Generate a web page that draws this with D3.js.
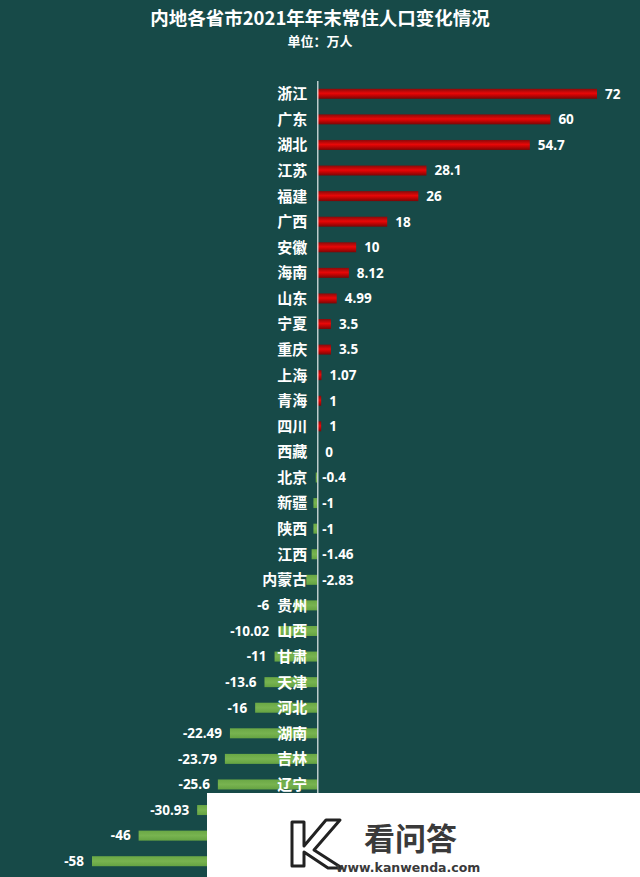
<!DOCTYPE html>
<html><head><meta charset="utf-8">
<script src="https://cdn.jsdelivr.net/npm/d3@7/dist/d3.min.js"></script>
<style>html,body{margin:0;padding:0;background:#fff;}svg{display:block;}</style>
</head><body>
<script>
const provinces = ["浙江","广东","湖北","江苏","福建","广西","安徽","海南","山东","宁夏","重庆","上海","青海","四川","西藏","北京","新疆","陕西","江西","内蒙古","贵州","山西","甘肃","天津","河北","湖南","吉林","辽宁","云南","黑龙江","河南"];
const changes = [72,60,54.7,28.1,26,18,10,8.12,4.99,3.5,3.5,1.07,1,1,0,-0.4,-1,-1,-1.46,-2.83,-6,-10.02,-11,-13.6,-16,-22.49,-23.79,-25.6,-30.93,-46,-58];
const valueLabels = ["72","60","54.7","28.1","26","18","10","8.12","4.99","3.5","3.5","1.07","1","1","0","-0.4","-1","-1","-1.46","-2.83","-6","-10.02","-11","-13.6","-16","-22.49","-23.79","-25.6","-30.93","-46","-58"];
const titleText = "内地各省市2021年年末常住人口变化情况";
const subtitleText = "单位：万人";

const W = 640, H = 877;
const svg = d3.select("body").append("svg").attr("width", W).attr("height", H);
const defs = svg.append("defs");
const gr = defs.append("linearGradient").attr("id","redg").attr("x1",0).attr("y1",0).attr("x2",0).attr("y2",1);
gr.append("stop").attr("offset","0%").attr("stop-color","#8a0a0a");
gr.append("stop").attr("offset","45%").attr("stop-color","#e80808");
gr.append("stop").attr("offset","60%").attr("stop-color","#d00404");
gr.append("stop").attr("offset","100%").attr("stop-color","#7a0606");
const gg = defs.append("linearGradient").attr("id","greeng").attr("x1",0).attr("y1",0).attr("x2",0).attr("y2",1);
gg.append("stop").attr("offset","0%").attr("stop-color","#6aa845");
gg.append("stop").attr("offset","50%").attr("stop-color","#78b350");
gg.append("stop").attr("offset","100%").attr("stop-color","#65a342");

svg.append("rect").attr("width",W).attr("height",H).attr("fill","#174a48");

const cjk = "'Noto Sans CJK SC','Noto Sans',sans-serif";
const num = "'Noto Sans','Open Sans',sans-serif";

svg.append("text").attr("x",320).attr("y",25).attr("text-anchor","middle")
  .attr("fill","#fff").attr("font-family",cjk).attr("font-weight","bold").attr("font-size",18.5).text(titleText);
svg.append("text").attr("x",320).attr("y",46).attr("text-anchor","middle")
  .attr("fill","#fff").attr("font-family",cjk).attr("font-weight","bold").attr("font-size",13).text(subtitleText);

const data = provinces.map((p,i)=>({p, v:changes[i], lab:valueLabels[i]}));
const x = d3.scaleLinear().domain([-58,72]).range([92,597]);
const y = d3.scaleBand().domain(provinces).range([81,874]).paddingInner(0.6).paddingOuter(0.3);
const x0 = x(0);
const bh = 10;

const g = svg.append("g");
g.selectAll("rect.bar").data(data).join("rect").attr("class","bar")
  .attr("x", d=>Math.min(x(d.v),x0)).attr("width", d=>Math.abs(x(d.v)-x0))
  .attr("y", d=>y(d.p)+y.bandwidth()/2-bh/2).attr("height", bh)
  .attr("fill", d=>d.v>=0?"url(#redg)":"url(#greeng)");

g.append("line").attr("x1",x0+0.5).attr("x2",x0+0.5).attr("y1",81).attr("y2",874)
  .attr("stroke","#e8eeee").attr("stroke-width",1.2);

const cats = g.selectAll("text.cat").data(data).join("text").attr("class","cat")
  .attr("x", x0-10).attr("y", d=>y(d.p)+y.bandwidth()/2).attr("dy","0.36em")
  .attr("text-anchor","end").attr("fill","#fff").attr("font-family",cjk).attr("font-weight","bold").attr("font-size",15)
  .text(d=>d.p);
const catLeft = {};
cats.each(function(d){ catLeft[d.p] = x0-10-this.getComputedTextLength(); });

g.selectAll("text.val").data(data).join("text").attr("class","val")
  .attr("y", d=>y(d.p)+y.bandwidth()/2).attr("dy","0.36em")
  .attr("fill","#fff").attr("font-family",num).attr("font-weight","bold").attr("font-size",13.5)
  .attr("x", d=> d.v>=0 ? x(d.v)+8 : (d.v>-3 ? x0+5 : Math.min(x(d.v), catLeft[d.p])-8))
  .attr("text-anchor", d=> (d.v<0 && d.v<=-3) ? "end" : "start")
  .text(d=>d.lab);

// watermark overlay
const wm = svg.append("g");
wm.append("rect").attr("x",207).attr("y",793).attr("width",W-207).attr("height",H-793).attr("fill","#fff");
wm.append("path").attr("d","M292,822 L304,822 L304,846 L326,820 L340,820 L314,850 L342,868 L328,868 L304,852 L304,866 L292,866 Z")
  .attr("fill","none").attr("stroke","#222").attr("stroke-width",3).attr("stroke-linejoin","round");
wm.append("text").attr("x",364).attr("y",850).attr("fill","#3a3a3a").attr("font-family",cjk).attr("font-weight","bold")
  .attr("font-size",31).text("看问答");
wm.append("text").attr("x",336).attr("y",872).attr("fill","#3a3a3a").attr("font-family","'DejaVu Sans',sans-serif").attr("font-weight","bold")
  .attr("font-size",12.5).text("www.kanwenda.com");
</script>
</body></html>
